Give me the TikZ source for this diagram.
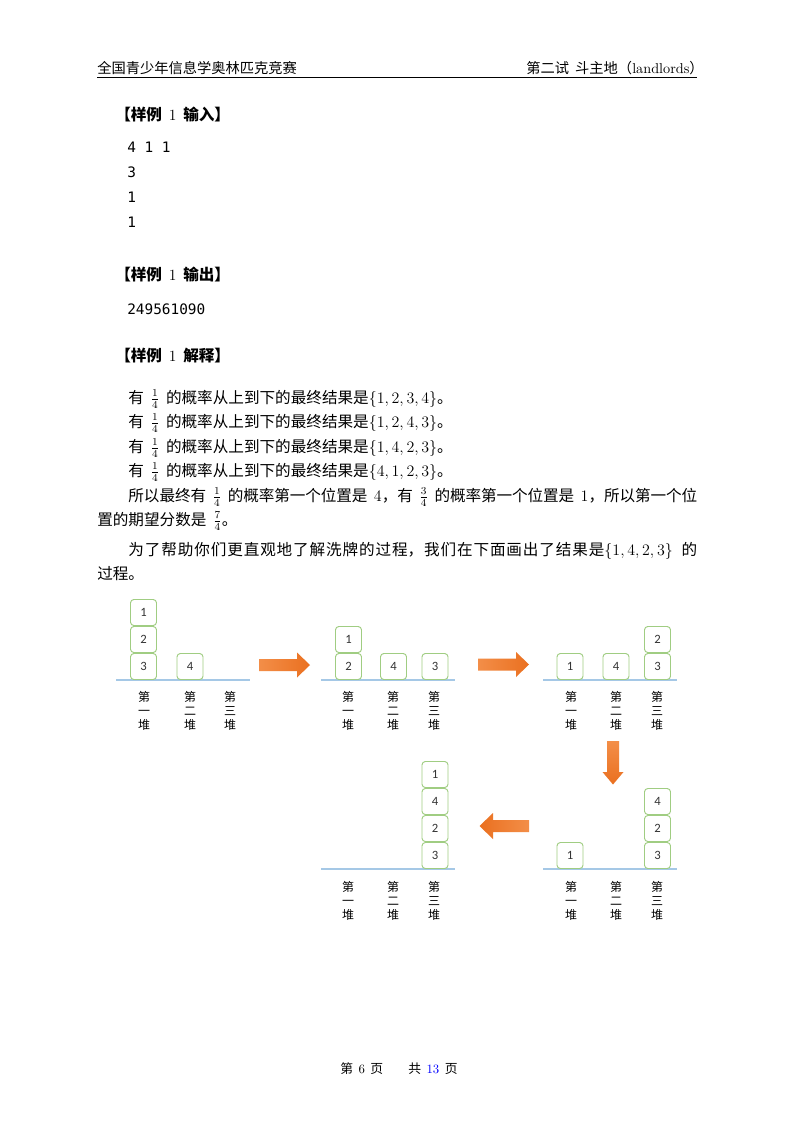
\documentclass[tikz,border=0pt]{standalone}
\usepackage{fontspec}
\newfontfamily\cjk[WordSpace=1.9]{Noto Sans CJK SC}
\newfontfamily\cardfont{Carlito}
\newfontfamily\codefont{DejaVu Sans Mono}
\definecolor{cardgreen}{RGB}{160,205,130}
\definecolor{baseblue}{RGB}{165,200,230}
\definecolor{arrowdark}{RGB}{234,112,32}
\definecolor{arrowlight}{RGB}{243,142,72}
\XeTeXlinebreaklocale "zh"
\XeTeXlinebreakskip=0pt plus 1pt minus 0.5pt

\begin{document}
\begin{tikzpicture}[x=0.75pt,y=-0.75pt]

        \fill[white] (0,0) rectangle (793,1122);
        \useasboundingbox (0,0) rectangle (793,1122);

        % header and footer
        \begin{scope}[every node/.style={inner sep=0pt,font=\cjk\fontsize{10.7}{13}\selectfont}]
          \node[anchor=base west] (head1) at (97,73.5) {全国青少年信息学奥林匹克竞赛};
          \node[anchor=base east] (head2) at (704,73.5) {第二试 斗主地（{\rmfamily landlords}）};
          \node[anchor=base west,font=\cjk\fontsize{9.6}{12}\selectfont] (foot1) at (340,1073.5) {第 {\rmfamily 6} 页};
          \node[anchor=base west,font=\cjk\fontsize{9.6}{12}\selectfont] (foot2) at (408,1073.5) {共 {\rmfamily\color{blue}13} 页};
        \end{scope}
        \draw[line width=0.5pt] (97,77.5) -- (697,77.5);

        % titles
        \begin{scope}[every node/.style={anchor=base west,inner sep=0pt,font=\cjk\bfseries\fontsize{11.7}{14}\selectfont}]
          \node (in)  at (115,120) {【样例 {\rmfamily\mdseries 1} 输入】};
          \node (out) at (115,280) {【样例 {\rmfamily\mdseries 1} 输出】};
          \node (why) at (115,361) {【样例 {\rmfamily\mdseries 1} 解释】};
        \end{scope}

        % sample data
        \begin{scope}[every node/.style={anchor=base west,inner sep=0pt,font=\codefont\fontsize{10.8}{13}\selectfont}]
          \node (c1) at (127,152) {4 1 1};
          \node (c2) at (127,177) {3};
          \node (c3) at (127,202) {1};
          \node (c4) at (127,227) {1};
          \node (c5) at (127,314) {249561090};
        \end{scope}

        % explanation
        \begin{scope}[every node/.style={anchor=base west,inner sep=0pt,font=\cjk\fontsize{11.7}{18}\selectfont}]
          \node (t1) at (128,403) {有 $\frac{1}{4}$ 的概率从上到下的最终结果是$\{1,2,3,4\}$。};
          \node (t2) at (128,427) {有 $\frac{1}{4}$ 的概率从上到下的最终结果是$\{1,2,4,3\}$。};
          \node (t3) at (128,452) {有 $\frac{1}{4}$ 的概率从上到下的最终结果是$\{1,4,2,3\}$。};
          \node (t4) at (128,476) {有 $\frac{1}{4}$ 的概率从上到下的最终结果是$\{4,1,2,3\}$。};
          \node[text width=450pt,align=justify] (t5) at (97,501)
            {\hspace*{2em}所以最终有 $\frac{1}{4}$ 的概率第一个位置是 $4$，有 $\frac{3}{4}$ 的概率第一个位置是 $1$，所以第一个位\linebreak
             置的期望分数是 $\frac{7}{4}$。};
          \node[text width=450pt,align=justify] (t7) at (97,555)
            {\hspace*{2em}为了帮助你们更直观地了解洗牌的过程，我们在下面画出了结果是$\{1,4,2,3\}$ 的\linebreak
             过程。};
        \end{scope}

        % ground lines
        \begin{scope}[baseblue,line width=0.8pt]
          \draw (116,680) -- (250,680);
          \draw (321,680) -- (455,680);
          \draw (543,680) -- (677,680);
          \draw (543,869) -- (677,869);
          \draw (321,869) -- (455,869);
        \end{scope}

        % cards
        \begin{scope}[every node/.style={draw=cardgreen,line width=0.7pt,rounded corners=2.5pt,fill=white,
            minimum width=19.5pt,minimum height=19.5pt,inner sep=0pt,text=black!80,
            font=\cardfont\fontsize{9.5}{10}\selectfont}]
          \node (a1) at (143.5,612.5) {1};
          \node (a2) at (143.5,639.5) {2};
          \node (a3) at (143.5,666.5) {3};
          \node (a4) at (190,666.5)   {4};

          \node (b1) at (348.5,639.5) {1};
          \node (b2) at (348.5,666.5) {2};
          \node (b4) at (393.5,666.5) {4};
          \node (b3) at (435,666.5)   {3};

          \node (c1) at (570,666.5)   {1};
          \node (c4) at (616,666.5)   {4};
          \node (c2) at (657.5,639.5) {2};
          \node (c3) at (657.5,666.5) {3};

          \node (d1) at (570,855.5)   {1};
          \node (d4) at (657.5,801.5) {4};
          \node (d2) at (657.5,828.5) {2};
          \node (d3) at (657.5,855.5) {3};

          \node (e1) at (435,774.5) {1};
          \node (e4) at (435,801.5) {4};
          \node (e2) at (435,828.5) {2};
          \node (e3) at (435,855.5) {3};
        \end{scope}

        % pile names
        \begin{scope}[every node/.style={align=center,inner sep=0pt,text=black,
            font=\cjk\fontsize{9}{10.5}\selectfont}]
          \node (pa1) at (144,711) {第\\一\\堆};
          \node (pa2) at (190,711) {第\\二\\堆};
          \node (pa3) at (230,711) {第\\三\\堆};
          \node (pb1) at (348,711) {第\\一\\堆};
          \node (pb2) at (393,711) {第\\二\\堆};
          \node (pb3) at (434,711) {第\\三\\堆};
          \node (pc1) at (571,711) {第\\一\\堆};
          \node (pc2) at (616,711) {第\\二\\堆};
          \node (pc3) at (657,711) {第\\三\\堆};
          \node (pd1) at (571,901) {第\\一\\堆};
          \node (pd2) at (616,901) {第\\二\\堆};
          \node (pd3) at (657,901) {第\\三\\堆};
          \node (pe1) at (348,901) {第\\一\\堆};
          \node (pe2) at (393,901) {第\\二\\堆};
          \node (pe3) at (434,901) {第\\三\\堆};
        \end{scope}

        % block arrows
        \begin{scope}[draw=none]
          \shade[left color=arrowlight,right color=arrowdark]
            (259,659) -- (297,659) -- (297,652.5) -- (310,665) -- (297,677.5) -- (297,671) -- (259,671) -- cycle;
          \shade[left color=arrowlight,right color=arrowdark]
            (478,658.5) -- (516,658.5) -- (516,652) -- (529,664.5) -- (516,677) -- (516,670.5) -- (478,670.5) -- cycle;
          \shade[top color=arrowlight,bottom color=arrowdark]
            (607,741) -- (619,741) -- (619,772) -- (623.5,772) -- (613,784.5) -- (602.5,772) -- (607,772) -- cycle;
          \shade[left color=arrowdark,right color=arrowlight]
            (529,820) -- (493,820) -- (493,813) -- (479.5,826) -- (493,839) -- (493,832) -- (529,832) -- cycle;
        \end{scope}

      \end{tikzpicture}
\end{document}
